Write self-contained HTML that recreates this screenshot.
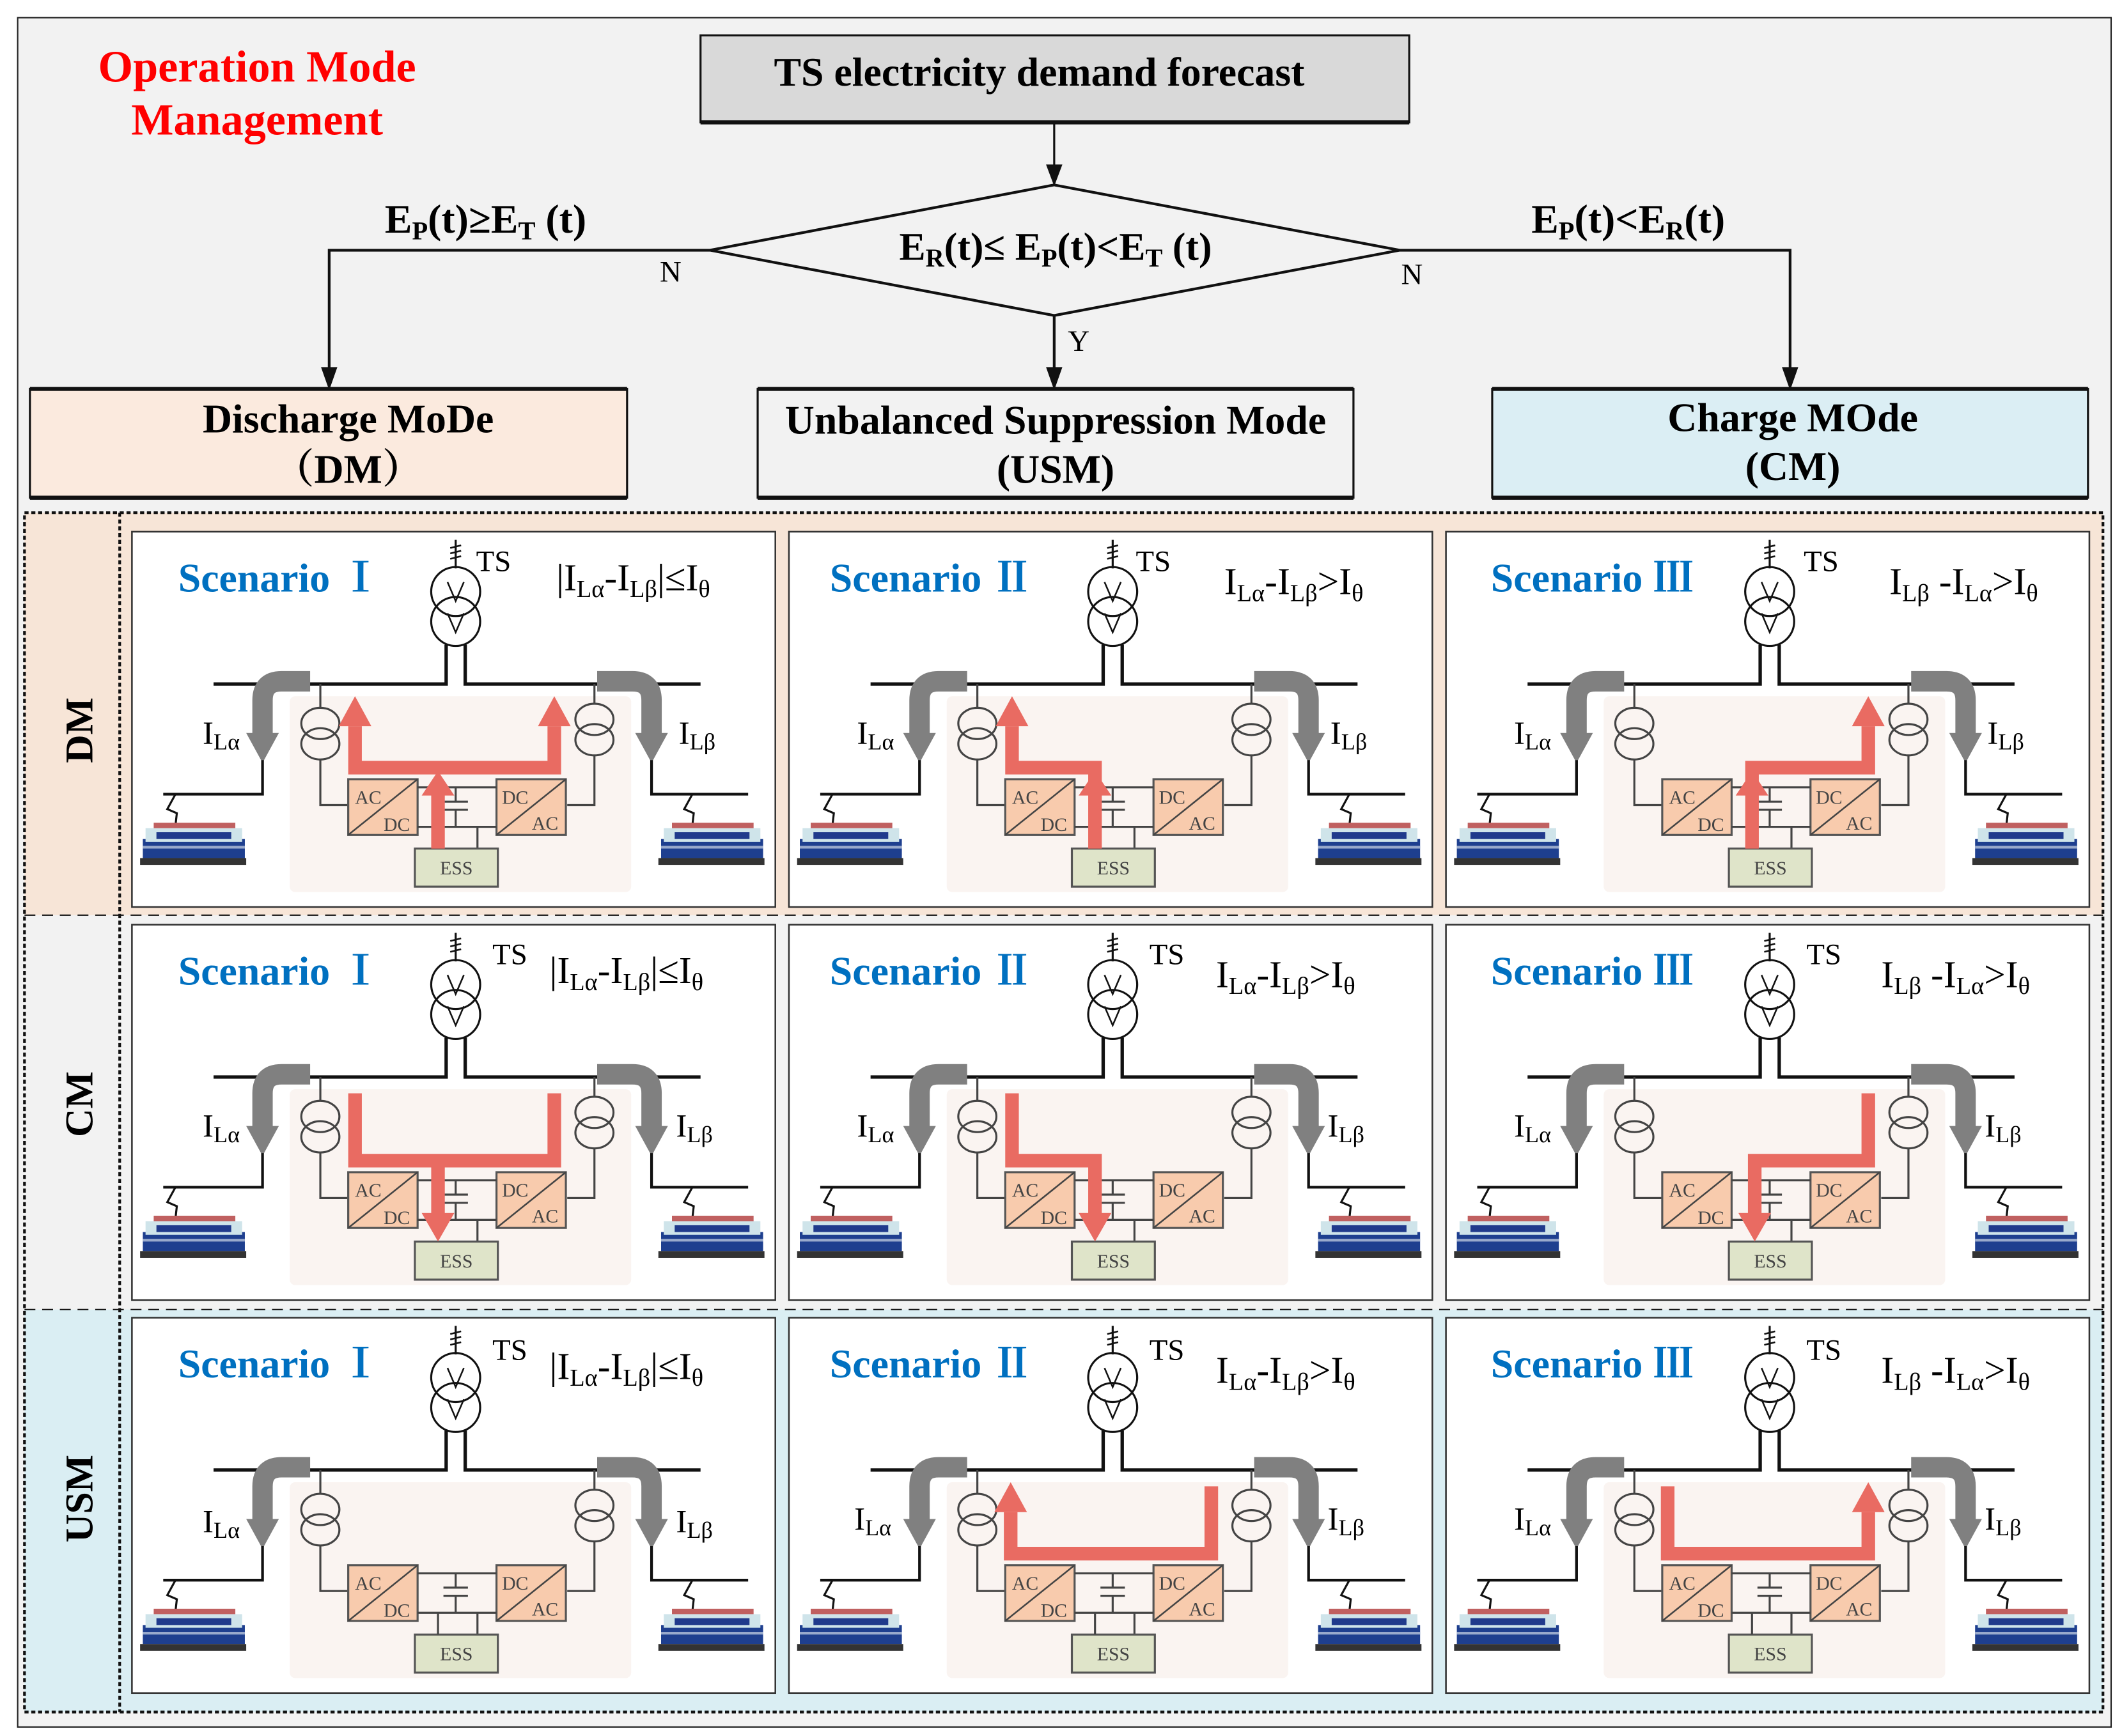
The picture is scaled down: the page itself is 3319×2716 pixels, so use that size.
<!DOCTYPE html>
<html><head><meta charset="utf-8"><style>
html,body{margin:0;padding:0;background:#fff}
svg{display:block}
text{font-family:"Liberation Serif","Noto Serif CJK SC",serif}
.b{font-weight:bold}
.sc{font-weight:bold;fill:#0070c0;font-size:30px}
.ts{font-size:22px}
.cd{font-size:28px}
.il{font-size:24px}
.sm{font-size:14px;fill:#444}
</style></head><body>
<svg width="3319" height="2716" viewBox="0 0 1560 1276.6" preserveAspectRatio="none" xmlns="http://www.w3.org/2000/svg">
<defs>
<g id="base">
  <rect x="0" y="0" width="473" height="276" fill="#fff" stroke="#333" stroke-width="1.2"/>
  <rect x="116" y="121" width="251" height="144" rx="4" fill="#faf4f1"/>
  <line x1="238" y1="6" x2="238" y2="27" stroke="#111" stroke-width="1.5"/>
  <path d="M234 12 L242 10 M234 16 L242 14 M234 20 L242 18" stroke="#111" stroke-width="1.2"/>
  <circle cx="238" cy="44" r="18" fill="none" stroke="#111" stroke-width="1.5"/>
  <circle cx="238" cy="66" r="18" fill="none" stroke="#111" stroke-width="1.5"/>
  <path d="M232 37 L238 51 L244 37 M232 60 L238 74 L244 60" fill="none" stroke="#111" stroke-width="1.2"/>
  <path d="M231 83 V112 H60 M245 83 V112 H418" fill="none" stroke="#111" stroke-width="2.5"/>
  <path d="M131 110 H110 Q96 110 96 124 V150" fill="none" stroke="#808080" stroke-width="15"/>
  <polygon points="84,148 108,148 96,170" fill="#808080"/>
  <path d="M342 110 H368 Q382 110 382 124 V150" fill="none" stroke="#808080" stroke-width="15"/>
  <polygon points="370,148 394,148 382,170" fill="#808080"/>
  <path d="M96 168 V193 H23 M382 168 V193 H453" fill="none" stroke="#111" stroke-width="2"/>
  <path d="M32 193 L26 204 L33 207 L32 216 M412 193 L406 204 L413 207 L412 216" fill="none" stroke="#111" stroke-width="1.5"/>
  <path d="M138.5 112 V130 M138.5 167 V201 H159 M340 112 V127 M340 164 V201 H320" fill="none" stroke="#444" stroke-width="1.5"/>
  <ellipse cx="138.5" cy="141" rx="14" ry="11.5" fill="none" stroke="#444" stroke-width="1.5"/>
  <ellipse cx="138.5" cy="156" rx="14" ry="11.5" fill="none" stroke="#444" stroke-width="1.5"/>
  <ellipse cx="340" cy="138" rx="14" ry="11.5" fill="none" stroke="#444" stroke-width="1.5"/>
  <ellipse cx="340" cy="153" rx="14" ry="11.5" fill="none" stroke="#444" stroke-width="1.5"/>
  <rect x="159" y="182" width="51" height="41" fill="#f8cbad" stroke="#555" stroke-width="1.5"/>
  <line x1="159" y1="223" x2="210" y2="182" stroke="#444" stroke-width="1.2"/>
  <rect x="268" y="182" width="51" height="41" fill="#f8cbad" stroke="#555" stroke-width="1.5"/>
  <line x1="268" y1="223" x2="319" y2="182" stroke="#444" stroke-width="1.2"/>
  <path d="M210 188 H268 M210 217 H268 M238 188 V198 M238 205 V217 M229 198.5 H247 M229 204.5 H247" fill="none" stroke="#444" stroke-width="1.5"/>
  <path d="M254 217 V233" stroke="#444" stroke-width="1.5"/>
  <rect x="208" y="233" width="61" height="28" fill="#dfe4c9" stroke="#555" stroke-width="1.5"/>
  <g id="train">
    <rect x="8" y="226" width="75" height="14" fill="#1e3f8f"/>
    <rect x="10" y="218" width="71" height="10" fill="#cfe4ea"/>
    <rect x="18" y="221" width="55" height="5" fill="#203a8c"/>
    <rect x="16" y="214" width="60" height="4" fill="#c06060"/>
    <rect x="6" y="240" width="78" height="5" fill="#333"/>
    <rect x="8" y="231" width="75" height="2" fill="#9ac"/>
  </g>
  <use href="#train" x="381"/>
</g>
<g id="essL"><path d="M225 217 V233" stroke="#444" stroke-width="1.5"/></g>
</defs>

<rect x="0" y="0" width="1560" height="1277" fill="#fff"/>
<rect x="13" y="13" width="1539" height="1257" fill="#f2f2f2" stroke="#222" stroke-width="1"/>

<text x="189" y="60" text-anchor="middle" class="b" font-size="33" fill="#ff0000">Operation Mode</text>
<text x="189" y="99" text-anchor="middle" class="b" font-size="33" fill="#ff0000">Management</text>

<rect x="515" y="26" width="521" height="64" fill="#d9d9d9" stroke="#111" stroke-width="1.5"/>
<line x1="515" y1="90" x2="1036" y2="90" stroke="#111" stroke-width="3"/>
<text x="764" y="63" text-anchor="middle" class="b" font-size="30">TS electricity demand forecast</text>
<line x1="775" y1="90" x2="775" y2="124" stroke="#111" stroke-width="1.5"/>
<polygon points="769,121 781,121 775,137" fill="#111"/>
<polygon points="522,184 775,136 1029,184 775,232" fill="none" stroke="#111" stroke-width="2"/>
<text x="776" y="191" text-anchor="middle" class="b" font-size="29">E<tspan font-size="19" dy="5">R</tspan><tspan dy="-5">(t)≤ E</tspan><tspan font-size="19" dy="5">P</tspan><tspan dy="-5">(t)&lt;E</tspan><tspan font-size="19" dy="5">T</tspan><tspan dy="-5"> (t)</tspan></text>
<path d="M522 184 H242 V272 M1029 184 H1316 V272 M775 232 V272" fill="none" stroke="#111" stroke-width="2"/>
<polygon points="236,270 248,270 242,287" fill="#111"/>
<polygon points="1310,270 1322,270 1316,287" fill="#111"/>
<polygon points="769,270 781,270 775,287" fill="#111"/>
<text x="357" y="171" text-anchor="middle" class="b" font-size="30">E<tspan font-size="19" dy="5">P</tspan><tspan dy="-5">(t)≥E</tspan><tspan font-size="19" dy="5">T</tspan><tspan dy="-5"> (t)</tspan></text>
<text x="1197" y="171" text-anchor="middle" class="b" font-size="30">E<tspan font-size="19" dy="5">P</tspan><tspan dy="-5">(t)&lt;E</tspan><tspan font-size="19" dy="5">R</tspan><tspan dy="-5">(t)</tspan></text>
<text x="493" y="207" text-anchor="middle" font-size="22">N</text>
<text x="1038" y="209" text-anchor="middle" font-size="22">N</text>
<text x="793" y="258" text-anchor="middle" font-size="22">Y</text>

<rect x="22" y="286" width="439" height="80" fill="#fbeade" stroke="#111" stroke-width="1.5"/>
<path d="M22 286 H461 M22 366 H461" stroke="#111" stroke-width="3"/>
<text x="256" y="318" text-anchor="middle" class="b" font-size="30">Discharge MoDe</text>
<text x="256" y="355" text-anchor="middle" class="b" font-size="30">（DM）</text>
<rect x="557" y="286" width="438" height="80" fill="#f2f2f2" stroke="#111" stroke-width="1.5"/>
<path d="M557 286 H995 M557 366 H995" stroke="#111" stroke-width="3"/>
<text x="776" y="319" text-anchor="middle" class="b" font-size="30">Unbalanced Suppression Mode</text>
<text x="776" y="355" text-anchor="middle" class="b" font-size="30">(USM)</text>
<rect x="1097" y="286" width="438" height="80" fill="#dbeef4" stroke="#111" stroke-width="1.5"/>
<path d="M1097 286 H1535 M1097 366 H1535" stroke="#111" stroke-width="3"/>
<text x="1318" y="317" text-anchor="middle" class="b" font-size="30">Charge MOde</text>
<text x="1318" y="353" text-anchor="middle" class="b" font-size="30">(CM)</text>

<rect x="18" y="377" width="1528" height="296" fill="#f7e5d7"/>
<rect x="18" y="673" width="1528" height="290" fill="#f2f2f2"/>
<rect x="18" y="963" width="1528" height="296" fill="#daeef3"/>
<rect x="18" y="377" width="1528" height="882" fill="none" stroke="#111" stroke-width="2" stroke-dasharray="3,2"/>
<line x1="88" y1="377" x2="88" y2="1259" stroke="#111" stroke-width="2" stroke-dasharray="3,2"/>
<path d="M18 673 H1546 M18 963 H1546" stroke="#111" stroke-width="1" stroke-dasharray="8,5"/>
<text transform="translate(68,537) rotate(-90)" text-anchor="middle" class="b" font-size="29">DM</text>
<text transform="translate(68,812) rotate(-90)" text-anchor="middle" class="b" font-size="29">CM</text>
<text transform="translate(68,1102) rotate(-90)" text-anchor="middle" class="b" font-size="29">USM</text>

<!-- DM I -->
<g transform="translate(97,391)">
<use href="#base"/>
<path d="M164 143 V173.5 H310.5 V143" fill="none" stroke="#e96b62" stroke-width="10"/>
<polygon points="152,143 176,143 164,121" fill="#e96b62"/><polygon points="298.5,143 322.5,143 310.5,121" fill="#e96b62"/>
<path d="M225 233 V190" stroke="#e96b62" stroke-width="10"/><polygon points="213,194 237,194 225,176" fill="#e96b62"/>
<text x="34" y="44" class="sc">Scenario Ⅰ</text><text x="253" y="29" class="ts">TS</text>
<text x="312" y="43" class="cd">|I<tspan font-size="18" dy="5">Lα</tspan><tspan dy="-5">-I</tspan><tspan font-size="18" dy="5">Lβ</tspan><tspan dy="-5">|≤I</tspan><tspan font-size="18" dy="5">θ</tspan></text>
<text x="52" y="156" class="il">I<tspan font-size="17" dy="4">Lα</tspan></text><text x="402" y="156" class="il">I<tspan font-size="17" dy="4">Lβ</tspan></text>
<text x="164" y="200" class="sm">AC</text><text x="185" y="220" class="sm">DC</text><text x="272" y="200" class="sm">DC</text><text x="294" y="219" class="sm">AC</text><text x="238.5" y="252" text-anchor="middle" class="sm">ESS</text>
</g>
<!-- DM II -->
<g transform="translate(580,391)">
<use href="#base"/>
<path d="M225 233 V173.5 H164 V143" fill="none" stroke="#e96b62" stroke-width="10"/>
<polygon points="152,143 176,143 164,121" fill="#e96b62"/>
<polygon points="213,194 237,194 225,176" fill="#e96b62"/>
<text x="30" y="44" class="sc">Scenario Ⅱ</text><text x="255" y="29" class="ts">TS</text>
<text x="320" y="46" class="cd">I<tspan font-size="18" dy="5">Lα</tspan><tspan dy="-5">-I</tspan><tspan font-size="18" dy="5">Lβ</tspan><tspan dy="-5">&gt;I</tspan><tspan font-size="18" dy="5">θ</tspan></text>
<text x="50" y="156" class="il">I<tspan font-size="17" dy="4">Lα</tspan></text><text x="398" y="156" class="il">I<tspan font-size="17" dy="4">Lβ</tspan></text>
<text x="164" y="200" class="sm">AC</text><text x="185" y="220" class="sm">DC</text><text x="272" y="200" class="sm">DC</text><text x="294" y="219" class="sm">AC</text><text x="238.5" y="252" text-anchor="middle" class="sm">ESS</text>
</g>
<!-- DM III -->
<g transform="translate(1063,391)">
<use href="#base"/>
<path d="M225 233 V173.5 H310.5 V143" fill="none" stroke="#e96b62" stroke-width="10"/>
<polygon points="298.5,143 322.5,143 310.5,121" fill="#e96b62"/>
<polygon points="213,194 237,194 225,176" fill="#e96b62"/>
<text x="33" y="44" class="sc">Scenario Ⅲ</text><text x="263" y="29" class="ts">TS</text>
<text x="326" y="46" class="cd">I<tspan font-size="18" dy="5">Lβ</tspan><tspan dy="-5"> -I</tspan><tspan font-size="18" dy="5">Lα</tspan><tspan dy="-5">&gt;I</tspan><tspan font-size="18" dy="5">θ</tspan></text>
<text x="50" y="156" class="il">I<tspan font-size="17" dy="4">Lα</tspan></text><text x="398" y="156" class="il">I<tspan font-size="17" dy="4">Lβ</tspan></text>
<text x="164" y="200" class="sm">AC</text><text x="185" y="220" class="sm">DC</text><text x="272" y="200" class="sm">DC</text><text x="294" y="219" class="sm">AC</text><text x="238.5" y="252" text-anchor="middle" class="sm">ESS</text>
</g>

<!-- CM I -->
<g transform="translate(97,680)">
<use href="#base"/>
<path d="M164 124 V173.5 H310.5 V124 M225 173.5 V213" fill="none" stroke="#e96b62" stroke-width="10"/>
<polygon points="213,212 237,212 225,233" fill="#e96b62"/>
<text x="34" y="44" class="sc">Scenario Ⅰ</text><text x="265" y="29" class="ts">TS</text>
<text x="307" y="43" class="cd">|I<tspan font-size="18" dy="5">Lα</tspan><tspan dy="-5">-I</tspan><tspan font-size="18" dy="5">Lβ</tspan><tspan dy="-5">|≤I</tspan><tspan font-size="18" dy="5">θ</tspan></text>
<text x="52" y="156" class="il">I<tspan font-size="17" dy="4">Lα</tspan></text><text x="400" y="156" class="il">I<tspan font-size="17" dy="4">Lβ</tspan></text>
<text x="164" y="200" class="sm">AC</text><text x="185" y="220" class="sm">DC</text><text x="272" y="200" class="sm">DC</text><text x="294" y="219" class="sm">AC</text><text x="238.5" y="252" text-anchor="middle" class="sm">ESS</text>
</g>
<!-- CM II -->
<g transform="translate(580,680)">
<use href="#base"/>
<path d="M164 124 V173.5 H225 V213" fill="none" stroke="#e96b62" stroke-width="10"/>
<polygon points="213,212 237,212 225,233" fill="#e96b62"/>
<text x="30" y="44" class="sc">Scenario Ⅱ</text><text x="265" y="29" class="ts">TS</text>
<text x="314" y="46" class="cd">I<tspan font-size="18" dy="5">Lα</tspan><tspan dy="-5">-I</tspan><tspan font-size="18" dy="5">Lβ</tspan><tspan dy="-5">&gt;I</tspan><tspan font-size="18" dy="5">θ</tspan></text>
<text x="50" y="156" class="il">I<tspan font-size="17" dy="4">Lα</tspan></text><text x="396" y="156" class="il">I<tspan font-size="17" dy="4">Lβ</tspan></text>
<text x="164" y="200" class="sm">AC</text><text x="185" y="220" class="sm">DC</text><text x="272" y="200" class="sm">DC</text><text x="294" y="219" class="sm">AC</text><text x="238.5" y="252" text-anchor="middle" class="sm">ESS</text>
</g>
<!-- CM III -->
<g transform="translate(1063,680)">
<use href="#base"/>
<path d="M310.5 124 V173.5 H227 V213" fill="none" stroke="#e96b62" stroke-width="10"/>
<polygon points="215,212 239,212 227,233" fill="#e96b62"/>
<text x="33" y="44" class="sc">Scenario Ⅲ</text><text x="265" y="29" class="ts">TS</text>
<text x="320" y="46" class="cd">I<tspan font-size="18" dy="5">Lβ</tspan><tspan dy="-5"> -I</tspan><tspan font-size="18" dy="5">Lα</tspan><tspan dy="-5">&gt;I</tspan><tspan font-size="18" dy="5">θ</tspan></text>
<text x="50" y="156" class="il">I<tspan font-size="17" dy="4">Lα</tspan></text><text x="396" y="156" class="il">I<tspan font-size="17" dy="4">Lβ</tspan></text>
<text x="164" y="200" class="sm">AC</text><text x="185" y="220" class="sm">DC</text><text x="272" y="200" class="sm">DC</text><text x="294" y="219" class="sm">AC</text><text x="238.5" y="252" text-anchor="middle" class="sm">ESS</text>
</g>

<!-- USM I -->
<g transform="translate(97,969)">
<use href="#base"/><use href="#essL"/>
<text x="34" y="44" class="sc">Scenario Ⅰ</text><text x="265" y="31" class="ts">TS</text>
<text x="307" y="45" class="cd">|I<tspan font-size="18" dy="5">Lα</tspan><tspan dy="-5">-I</tspan><tspan font-size="18" dy="5">Lβ</tspan><tspan dy="-5">|≤I</tspan><tspan font-size="18" dy="5">θ</tspan></text>
<text x="52" y="158" class="il">I<tspan font-size="17" dy="4">Lα</tspan></text><text x="400" y="158" class="il">I<tspan font-size="17" dy="4">Lβ</tspan></text>
<text x="164" y="200" class="sm">AC</text><text x="185" y="220" class="sm">DC</text><text x="272" y="200" class="sm">DC</text><text x="294" y="219" class="sm">AC</text><text x="238.5" y="252" text-anchor="middle" class="sm">ESS</text>
</g>
<!-- USM II -->
<g transform="translate(580,969)">
<use href="#base"/><use href="#essL"/>
<path d="M310.5 124 V173.5 H163 V143" fill="none" stroke="#e96b62" stroke-width="10"/>
<polygon points="151,143 175,143 163,121" fill="#e96b62"/>
<text x="30" y="44" class="sc">Scenario Ⅱ</text><text x="265" y="31" class="ts">TS</text>
<text x="314" y="48" class="cd">I<tspan font-size="18" dy="5">Lα</tspan><tspan dy="-5">-I</tspan><tspan font-size="18" dy="5">Lβ</tspan><tspan dy="-5">&gt;I</tspan><tspan font-size="18" dy="5">θ</tspan></text>
<text x="48" y="156" class="il">I<tspan font-size="17" dy="4">Lα</tspan></text><text x="396" y="156" class="il">I<tspan font-size="17" dy="4">Lβ</tspan></text>
<text x="164" y="200" class="sm">AC</text><text x="185" y="220" class="sm">DC</text><text x="272" y="200" class="sm">DC</text><text x="294" y="219" class="sm">AC</text><text x="238.5" y="252" text-anchor="middle" class="sm">ESS</text>
</g>
<!-- USM III -->
<g transform="translate(1063,969)">
<use href="#base"/><use href="#essL"/>
<path d="M163 124 V173.5 H310.5 V143" fill="none" stroke="#e96b62" stroke-width="10"/>
<polygon points="298.5,143 322.5,143 310.5,121" fill="#e96b62"/>
<text x="33" y="44" class="sc">Scenario Ⅲ</text><text x="265" y="31" class="ts">TS</text>
<text x="320" y="48" class="cd">I<tspan font-size="18" dy="5">Lβ</tspan><tspan dy="-5"> -I</tspan><tspan font-size="18" dy="5">Lα</tspan><tspan dy="-5">&gt;I</tspan><tspan font-size="18" dy="5">θ</tspan></text>
<text x="50" y="156" class="il">I<tspan font-size="17" dy="4">Lα</tspan></text><text x="396" y="156" class="il">I<tspan font-size="17" dy="4">Lβ</tspan></text>
<text x="164" y="200" class="sm">AC</text><text x="185" y="220" class="sm">DC</text><text x="272" y="200" class="sm">DC</text><text x="294" y="219" class="sm">AC</text><text x="238.5" y="252" text-anchor="middle" class="sm">ESS</text>
</g>
</svg>
</body></html>
